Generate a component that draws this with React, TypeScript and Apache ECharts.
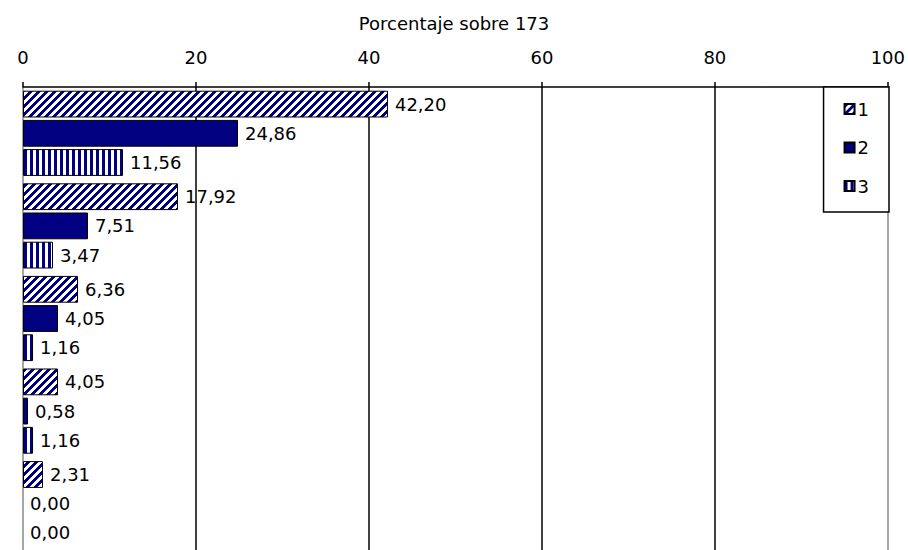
import React, { useEffect, useRef } from "react";
import * as echarts from "echarts";

const TITLE = "Porcentaje sobre 173";
const categories = ["A", "B", "C", "D", "E"];
const seriesNames = ["1", "2", "3"];
const values1 = [42.2, 17.92, 6.36, 4.05, 2.31];
const values2 = [24.86, 7.51, 4.05, 0.58, 0.0];
const values3 = [11.56, 3.47, 1.16, 1.16, 0.0];
const xTicks = [0, 20, 40, 60, 80, 100];

const NAVY = "#000080";
const FONT = "DejaVu Sans";

function makeDiagonal() {
  const size = 8;
  const c = document.createElement("canvas");
  c.width = size;
  c.height = size;
  const ctx = c.getContext("2d")!;
  const img = ctx.createImageData(size, size);
  for (let y = 0; y < size; y++) {
    for (let x = 0; x < size; x++) {
      const navy = (x + y) % size < 4;
      const i = (y * size + x) * 4;
      img.data[i] = navy ? 0 : 255;
      img.data[i + 1] = navy ? 0 : 255;
      img.data[i + 2] = navy ? 128 : 255;
      img.data[i + 3] = 255;
    }
  }
  ctx.putImageData(img, 0, 0);
  return { image: c, repeat: "repeat", imageWidth: size, imageHeight: size };
}

function makeVertical() {
  const w = 6;
  const h = 6;
  const c = document.createElement("canvas");
  c.width = w;
  c.height = h;
  const ctx = c.getContext("2d")!;
  ctx.fillStyle = "#ffffff";
  ctx.fillRect(0, 0, w, h);
  ctx.fillStyle = NAVY;
  ctx.fillRect(0, 0, 3, h);
  return { image: c, repeat: "repeat", imageWidth: w, imageHeight: h };
}

const fmt = (v: number) => v.toFixed(2).replace(".", ",");

export default function App() {
  const ref = useRef<HTMLDivElement>(null);
  useEffect(() => {
    if (!ref.current) return;
    const chart = echarts.init(ref.current, null, { renderer: "svg" });
    const fills = [makeDiagonal(), NAVY, makeVertical()];
    const all = [values1, values2, values3];
    const series = all.map((vals, si) => ({
      name: seriesNames[si],
      type: "bar",
      data: vals.map((v) =>
        v === 0 ? { value: v, itemStyle: { borderWidth: 0 } } : v
      ),
      barGap: "9%",
      barCategoryGap: "8%",
      itemStyle: { color: fills[si] as any, borderColor: "#000", borderWidth: 1 },
      label: {
        show: true,
        position: "right",
        distance: 7,
        color: "#000",
        fontFamily: FONT,
        fontSize: 18,
        formatter: (p: any) => fmt(p.value),
      },
    }));
    chart.setOption({
      animation: false,
      backgroundColor: "#fff",
      title: {
        text: TITLE,
        left: "center",
        top: 9,
        textStyle: { fontFamily: FONT, fontSize: 18, fontWeight: "normal", color: "#000" },
      },
      legend: {
        orient: "vertical",
        right: 19,
        top: 87,
        padding: [13, 20, 17, 20],
        itemGap: 20.5,
        itemWidth: 10,
        itemHeight: 10,
        borderColor: "#000",
        borderWidth: 1.5,
        backgroundColor: "#fff",
        icon: "rect",
        textStyle: { fontFamily: FONT, fontSize: 18, color: "#000", padding: [0, 0, 0, -2] },
        data: seriesNames,
      },
      grid: { left: 23, top: 87, width: 865, height: 467 },
      xAxis: {
        type: "value",
        position: "top",
        min: xTicks[0],
        max: xTicks[xTicks.length - 1],
        interval: 20,
        axisLine: { show: true, lineStyle: { color: "#000", width: 1.5 } },
        axisTick: { show: true, inside: false, length: 5, lineStyle: { color: "#000", width: 1.5 } },
        axisLabel: { fontFamily: FONT, fontSize: 18, color: "#000", margin: 21 },
        splitLine: {
          show: true,
          showMinLine: true,
          showMaxLine: true,
          lineStyle: { color: ["#888", "#000", "#000", "#000", "#000", "#888"], width: 1.5 },
        },
      },
      yAxis: {
        type: "category",
        inverse: true,
        data: categories,
        axisLine: { show: false },
        axisTick: { show: false },
        axisLabel: { show: false },
      },
      series,
    });
    return () => chart.dispose();
  }, []);
  return (
    <div
      ref={ref}
      style={{ position: "absolute", left: 0, top: 0, width: 908, height: 550 }}
    />
  );
}
